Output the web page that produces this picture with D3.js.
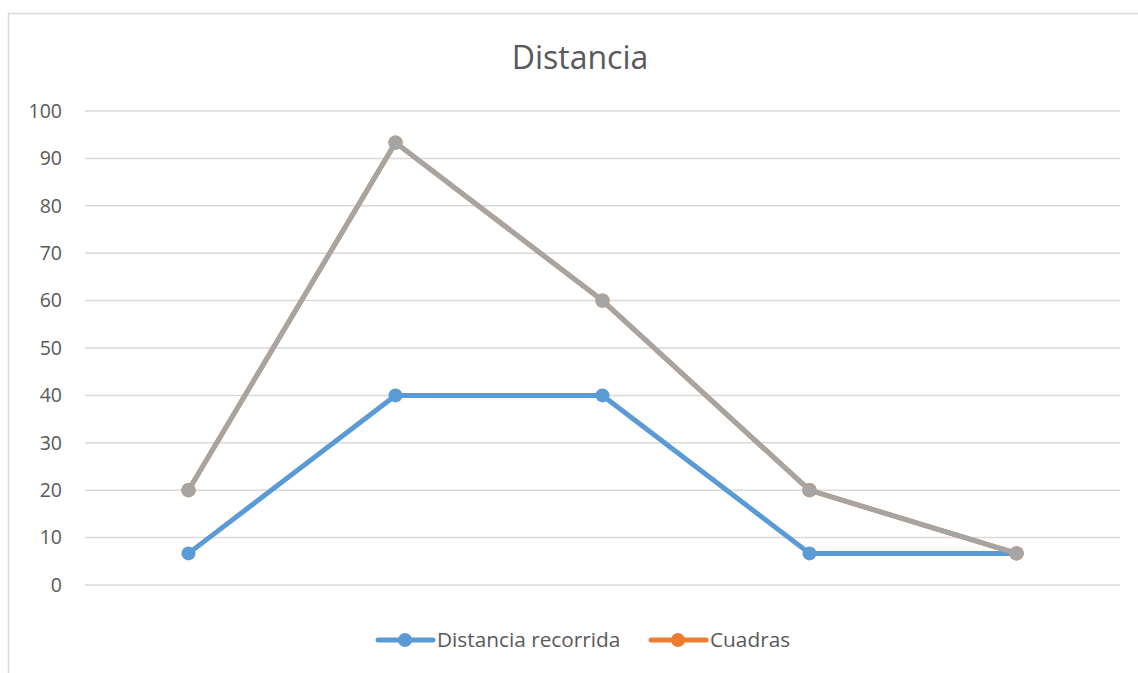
<!DOCTYPE html>
<html>
<head>
<meta charset="utf-8">
<script src="https://cdn.jsdelivr.net/npm/d3@7"></script>
<style>
  body { margin: 0; background: #fff; }
  svg { display: block; font-family: "Open Sans", "Liberation Sans", sans-serif; }
</style>
</head>
<body>
<svg id="chart" width="1138" height="673"></svg>
<script>
// Chart data
const categories = ["1", "2", "3", "4", "5"];
const distanciaRecorrida = [6.67, 40, 40, 6.67, 6.67];
const cuadras = [20, 93.33, 60, 20, 6.67];
const tramo = [20, 93.33, 60, 20, 6.67];
const yTicks = [0, 10, 20, 30, 40, 50, 60, 70, 80, 90, 100];
const legendItems = [
  { name: "Distancia recorrida", color: "#5B9BD5" },
  { name: "Cuadras", color: "#ED7D31" }
];

const svg = d3.select("#chart");
const textColor = "#595959";
const gridColor = "#D9D9D9";
const fontFamily = "'Open Sans', 'Liberation Sans', sans-serif";

// Outer chart frame (extends past the visible area on right and bottom)
svg.append("rect")
  .attr("x", 8.5).attr("y", 13.5)
  .attr("width", 1200).attr("height", 700)
  .attr("fill", "#fff").attr("stroke", gridColor).attr("stroke-width", 1.5);

const plot = { left: 85, right: 1120, top: 111, bottom: 585 };

const x = d3.scalePoint().domain(categories)
  .range([plot.left, plot.right]).padding(0.5);
const y = d3.scaleLinear().domain([0, 100]).range([plot.bottom, plot.top]);

// Gridlines
svg.append("g").selectAll("line").data(yTicks).join("line")
  .attr("x1", plot.left).attr("x2", plot.right)
  .attr("y1", d => y(d)).attr("y2", d => y(d))
  .attr("stroke", gridColor).attr("stroke-width", 1.5);

// Y axis labels
const yAxis = d3.axisLeft(y).tickValues(yTicks).tickSize(0).tickPadding(0);
const gy = svg.append("g").attr("transform", `translate(62,0)`).call(yAxis)
  .attr("font-family", fontFamily).attr("font-size", 19.5);
gy.select(".domain").remove();
gy.selectAll("text").attr("fill", textColor);

// Title
svg.append("text").attr("x", 580).attr("y", 69)
  .attr("text-anchor", "middle").attr("fill", textColor)
  .attr("font-size", 32).text("Distancia");

const line = d3.line().x((d, i) => x(categories[i])).y(d => y(d));

function drawSeries(values, color, width, r) {
  svg.append("path").datum(values)
    .attr("d", line).attr("fill", "none")
    .attr("stroke", color).attr("stroke-width", width)
    .attr("stroke-linejoin", "round").attr("stroke-linecap", "round");
  svg.append("g").selectAll("circle").data(values).join("circle")
    .attr("cx", (d, i) => x(categories[i])).attr("cy", d => y(d))
    .attr("r", r).attr("fill", color);
}

drawSeries(distanciaRecorrida, "#5B9BD5", 5, 7);
drawSeries(cuadras, "#ED7D31", 5, 7.2);
drawSeries(tramo, "#A5A5A5", 4.8, 7);

// Legend
const legendY = 640;
const legendX = [378, 651];
legendItems.forEach((item, i) => {
  const g = svg.append("g").attr("transform", `translate(${legendX[i]},${legendY})`);
  g.append("line").attr("x1", 0).attr("x2", 55).attr("y1", 0).attr("y2", 0)
    .attr("stroke", item.color).attr("stroke-width", 5).attr("stroke-linecap", "round");
  g.append("circle").attr("cx", 27).attr("cy", 0).attr("r", 7).attr("fill", item.color);
  g.append("text").attr("x", 59).attr("y", 7).attr("fill", textColor)
    .attr("font-size", 20.8).text(item.name);
});
</script>
</body>
</html>
